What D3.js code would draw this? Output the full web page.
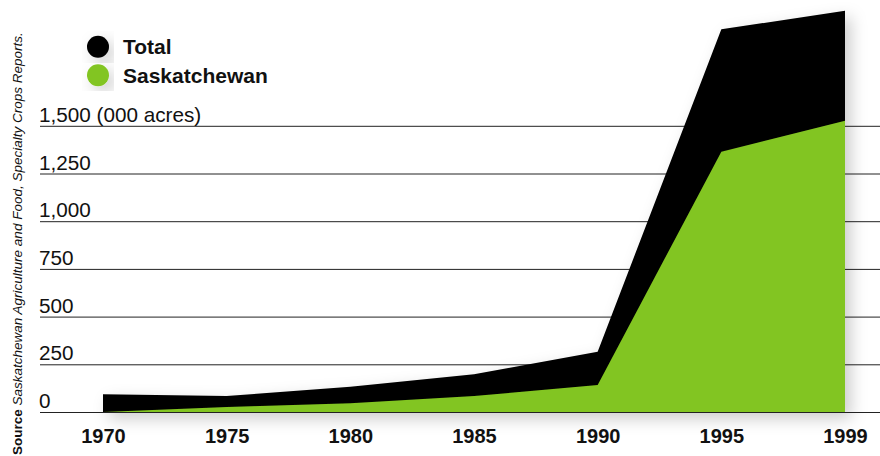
<!DOCTYPE html>
<html>
<head>
<meta charset="utf-8">
<script src="https://cdn.jsdelivr.net/npm/d3@7"></script>
<style>
  html, body { margin: 0; padding: 0; background: #fff; }
  svg { display: block; font-family: "Liberation Sans", Arial, sans-serif; }
</style>
</head>
<body>
<svg id="chart" width="880" height="456"></svg>
<script>
// Specialty crop area, thousands of acres
const years = ["1970", "1975", "1980", "1985", "1990", "1995", "1999"];
const totalAcres = [95, 86, 135, 200, 319, 2008, 2106];
const saskAcres = [3, 29, 48, 86, 144, 1367, 1529];
const yTicks = [0, 250, 500, 750, 1000, 1250, 1500];
const seriesNames = ["Total", "Saskatchewan"];
const seriesColors = ["#000000", "#82c520"];

const svg = d3.select("#chart");
const W = 880, H = 456;

const x = d3.scalePoint().domain(years).range([103, 845]).padding(0);
const y = d3.scaleLinear().domain([0, 1500]).range([412.5, 126.3]);

const defs = svg.append("defs");
const shadow = defs.append("filter").attr("id", "soft")
  .attr("x", "-20%").attr("y", "-20%").attr("width", "140%").attr("height", "140%");
shadow.append("feDropShadow")
  .attr("dx", 6).attr("dy", 6).attr("stdDeviation", 8)
  .attr("flood-color", "#000").attr("flood-opacity", 0.2);

// Horizontal gridlines with value labels
const grid = svg.append("g");
grid.selectAll("line").data(yTicks).join("line")
  .attr("x1", 40).attr("x2", W)
  .attr("y1", d => y(d)).attr("y2", d => y(d))
  .attr("stroke", "#222").attr("stroke-width", 1);
grid.selectAll("text").data(yTicks).join("text")
  .attr("x", 39).attr("y", d => y(d) - 4.5)
  .attr("font-size", 20.7).attr("fill", "#111")
  .text(d => d3.format(",")(d) + (d === 1500 ? " (000 acres)" : ""));

// Areas: total in black, Saskatchewan in green over it
const rows = years.map((yr, i) => ({ yr, total: totalAcres[i], sask: saskAcres[i] }));
const areaTotal = d3.area().x(d => x(d.yr)).y0(y(0)).y1(d => y(d.total));
const areaSask = d3.area().x(d => x(d.yr)).y0(y(0)).y1(d => y(d.sask));

const plot = svg.append("g").attr("filter", "url(#soft)");
plot.append("path").datum(rows).attr("d", areaTotal).attr("fill", seriesColors[0]);
plot.append("path").datum(rows).attr("d", areaSask).attr("fill", seriesColors[1]);

// Baseline
svg.append("line").attr("x1", 40).attr("x2", W)
  .attr("y1", y(0)).attr("y2", y(0)).attr("stroke", "#222").attr("stroke-width", 1.2);

// X axis labels
const xAxis = d3.axisBottom(x).tickSize(0).tickPadding(0);
const xg = svg.append("g").attr("transform", `translate(0, ${y(0) + 16})`).call(xAxis);
xg.select(".domain").remove();
xg.selectAll("text")
  .attr("font-size", 20).attr("font-weight", "bold").attr("fill", "#111")
  .attr("font-family", "'Liberation Sans', Arial, sans-serif");

// Legend
const legend = svg.append("g");
const lg = legend.selectAll("g").data(seriesNames).join("g")
  .attr("transform", (d, i) => `translate(98, ${46.7 + i * 28.5})`);
lg.append("circle").attr("r", 11).attr("fill", (d, i) => seriesColors[i])
  .attr("filter", "url(#soft)");
lg.append("text").attr("x", 25).attr("y", 7.5)
  .attr("font-size", 21).attr("font-weight", "bold").attr("fill", "#111")
  .text(d => d);

// Source note, rotated along the left edge
const src = svg.append("text")
  .attr("transform", "translate(22, 455) rotate(-90)")
  .attr("font-size", 13.5).attr("fill", "#111");
src.append("tspan").attr("font-weight", "bold").text("Source ");
src.append("tspan").attr("font-style", "italic")
  .text("Saskatchewan Agriculture and Food, Specialty Crops Reports.");
</script>
</body>
</html>
